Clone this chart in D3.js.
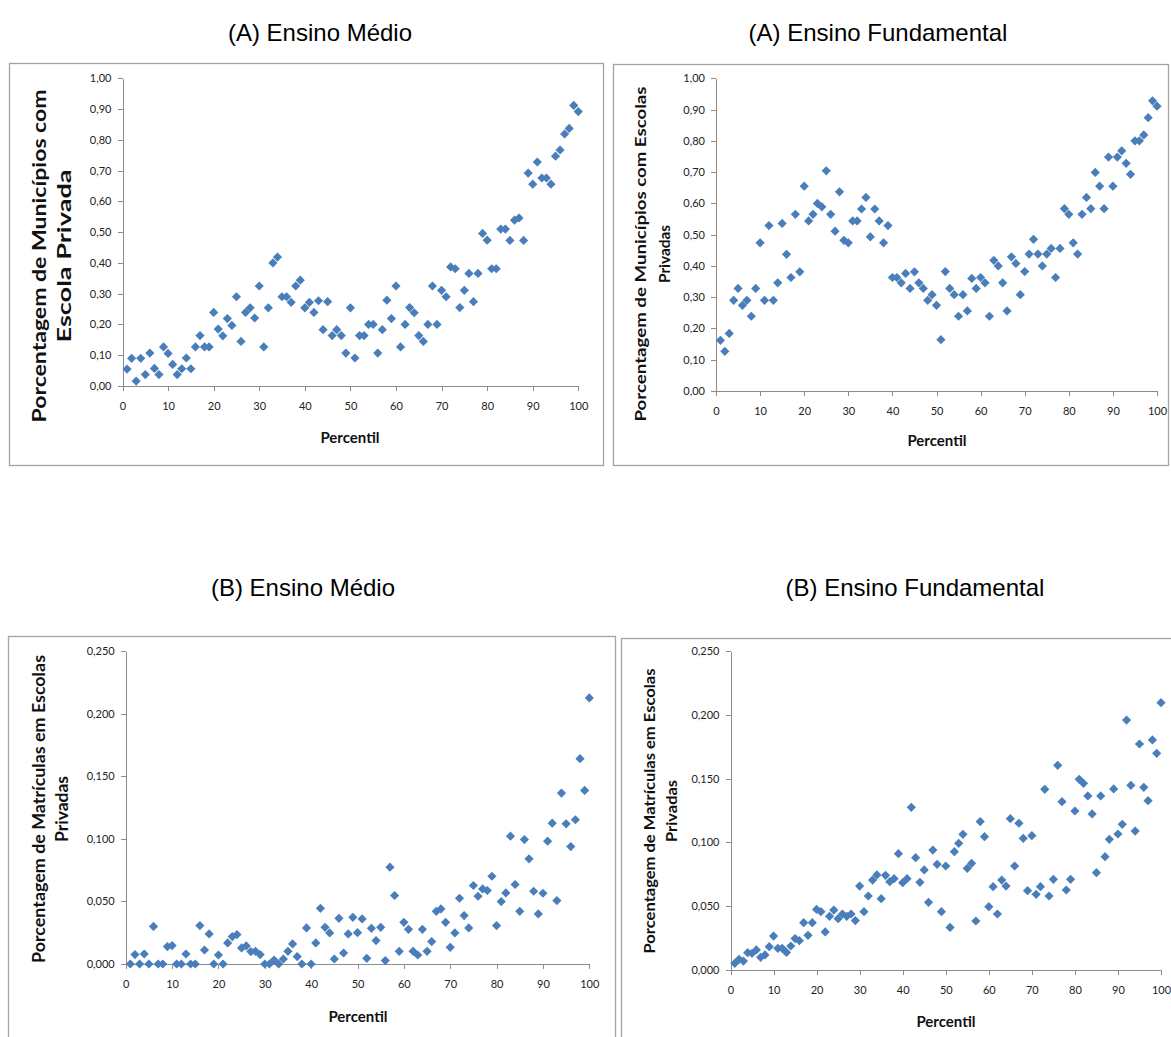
<!DOCTYPE html>
<html lang="pt-BR">
<head>
<meta charset="utf-8">
<script src="https://cdn.jsdelivr.net/npm/d3@7"></script>
<style>
  html, body { margin: 0; padding: 0; background: #fff; }
  svg { display: block; }
  .tick text { font-family: Lato, "Liberation Sans", sans-serif; font-size: 11px; fill: #222; }
  .axis path, .axis line { stroke: #8c8c8c; stroke-width: 1; shape-rendering: crispEdges; }
</style>
</head>
<body>
<svg id="chart" width="1171" height="1037"></svg>
<script>
// Percentis (eixo x) de 1 a 100
const percentis = d3.range(1, 101);

// (A) Porcentagem de municípios com escola privada — Ensino Médio
const municipiosMedio = [
  0.055, 0.090, 0.016, 0.090, 0.037, 0.107, 0.057, 0.037, 0.127, 0.106,
  0.070, 0.037, 0.056, 0.091, 0.056, 0.127, 0.164, 0.127, 0.127, 0.239,
  0.185, 0.163, 0.219, 0.197, 0.290, 0.145, 0.239, 0.254, 0.221, 0.325,
  0.127, 0.254, 0.400, 0.419, 0.290, 0.290, 0.272, 0.325, 0.344, 0.254,
  0.272, 0.239, 0.277, 0.183, 0.274, 0.164, 0.183, 0.164, 0.107, 0.254,
  0.091, 0.164, 0.164, 0.200, 0.200, 0.107, 0.183, 0.279, 0.219, 0.325,
  0.127, 0.200, 0.255, 0.238, 0.164, 0.145, 0.200, 0.325, 0.200, 0.311,
  0.290, 0.387, 0.381, 0.255, 0.311, 0.366, 0.274, 0.366, 0.496, 0.474,
  0.381, 0.381, 0.510, 0.510, 0.473, 0.539, 0.546, 0.473, 0.692, 0.656,
  0.728, 0.676, 0.676, 0.656, 0.747, 0.767, 0.819, 0.837, 0.912, 0.892
];

// (A) Porcentagem de municípios com escolas privadas — Ensino Fundamental
const municipiosFundamental = [
  0.162, 0.127, 0.184, 0.290, 0.328, 0.274, 0.290, 0.239, 0.328, 0.474,
  0.290, 0.529, 0.290, 0.346, 0.536, 0.437, 0.363, 0.565, 0.381, 0.655,
  0.544, 0.565, 0.600, 0.589, 0.704, 0.565, 0.511, 0.637, 0.482, 0.474,
  0.544, 0.544, 0.582, 0.619, 0.493, 0.582, 0.544, 0.474, 0.529, 0.363,
  0.363, 0.346, 0.376, 0.328, 0.381, 0.346, 0.328, 0.290, 0.308, 0.274,
  0.164, 0.382, 0.328, 0.308, 0.239, 0.308, 0.256, 0.360, 0.328, 0.363,
  0.346, 0.239, 0.418, 0.400, 0.346, 0.256, 0.429, 0.408, 0.308, 0.382,
  0.438, 0.485, 0.438, 0.400, 0.438, 0.456, 0.363, 0.456, 0.583, 0.565,
  0.474, 0.438, 0.565, 0.619, 0.583, 0.699, 0.655, 0.583, 0.748, 0.655,
  0.748, 0.768, 0.728, 0.693, 0.800, 0.800, 0.819, 0.874, 0.928, 0.911
];

// (B) Porcentagem de matrículas em escolas privadas — Ensino Médio
const matriculasMedio = [
  0.0000, 0.0075, 0.0000, 0.0080, 0.0000, 0.0300, 0.0000, 0.0000, 0.0139, 0.0147,
  0.0000, 0.0000, 0.0080, 0.0000, 0.0000, 0.0307, 0.0112, 0.0240, 0.0000, 0.0072,
  0.0000, 0.0168, 0.0219, 0.0235, 0.0128, 0.0144, 0.0099, 0.0101, 0.0075, 0.0000,
  0.0000, 0.0032, 0.0000, 0.0040, 0.0101, 0.0160, 0.0059, 0.0000, 0.0288, 0.0000,
  0.0168, 0.0445, 0.0293, 0.0248, 0.0040, 0.0365, 0.0088, 0.0240, 0.0373, 0.0250,
  0.0360, 0.0045, 0.0285, 0.0187, 0.0293, 0.0027, 0.0773, 0.0547, 0.0101, 0.0333,
  0.0277, 0.0101, 0.0072, 0.0277, 0.0101, 0.0179, 0.0421, 0.0440, 0.0333, 0.0133,
  0.0248, 0.0525, 0.0387, 0.0288, 0.0627, 0.0541, 0.0600, 0.0587, 0.0701, 0.0307,
  0.0499, 0.0568, 0.1021, 0.0635, 0.0421, 0.0994, 0.0840, 0.0581, 0.0400, 0.0565,
  0.0981, 0.1125, 0.0507, 0.1365, 0.1120, 0.0938, 0.1152, 0.1640, 0.1386, 0.2125
];

// (B) Porcentagem de matrículas em escolas privadas — Ensino Fundamental
const matriculasFundamental = [
  0.0052, 0.0084, 0.0070, 0.0136, 0.0131, 0.0157, 0.0099, 0.0118, 0.0183, 0.0266,
  0.0170, 0.0170, 0.0138, 0.0188, 0.0246, 0.0230, 0.0371, 0.0272, 0.0371, 0.0475,
  0.0457, 0.0298, 0.0421, 0.0470, 0.0402, 0.0439, 0.0421, 0.0439, 0.0387, 0.0658,
  0.0457, 0.0580, 0.0705, 0.0745, 0.0559, 0.0742, 0.0692, 0.0716, 0.0912, 0.0684,
  0.0716, 0.1275, 0.0880, 0.0687, 0.0784, 0.0530, 0.0940, 0.0828, 0.0457, 0.0815,
  0.0334, 0.0927, 0.0993, 0.1063, 0.0797, 0.0836, 0.0384, 0.1163, 0.1045, 0.0496,
  0.0653, 0.0439, 0.0705, 0.0658, 0.1186, 0.0815, 0.1150, 0.1032, 0.0622, 0.1053,
  0.0593, 0.0653, 0.1416, 0.0580, 0.0711, 0.1604, 0.1319, 0.0627, 0.0711, 0.1246,
  0.1494, 0.1463, 0.1364, 0.1223, 0.0763, 0.1364, 0.0888, 0.1024, 0.1419, 0.1066,
  0.1142, 0.1959, 0.1447, 0.1089, 0.1771, 0.1432, 0.1327, 0.1803, 0.1698, 0.2095
];

// Marcas dos eixos
const xTicks = [0, 10, 20, 30, 40, 50, 60, 70, 80, 90, 100];
const yTicksA = [0, 0.1, 0.2, 0.3, 0.4, 0.5, 0.6, 0.7, 0.8, 0.9, 1.0];
const yTicksB = [0, 0.05, 0.10, 0.15, 0.20, 0.25];

// Títulos
const titulos = ["(A) Ensino Médio", "(A) Ensino Fundamental", "(B) Ensino Médio", "(B) Ensino Fundamental"];
const rotulosY = [
  ["Porcentagem de Municípios  com", "Escola Privada"],
  ["Porcentagem de Municípios com Escolas", "Privadas"],
  ["Porcentagem de Matrículas em Escolas", "Privadas"],
  ["Porcentagem de Matrículas em Escolas", "Privadas"]
];
const rotuloX = "Percentil";

// Formatação com vírgula decimal
const ptBR = d3.formatLocale({ decimal: ",", thousands: ".", grouping: [3], currency: ["R$ ", ""] });

// Disposição de cada painel
const paineis = [
  { valores: municipiosMedio, yTicks: yTicksA, yMax: 1.0, fmt: ptBR.format(".2f"),
    frame: [9, 63, 603, 465], plot: [122.5, 578.3, 386, 78.3],
    titulo: [320, 32], yLab: { x: [38, 63], cy: 256, size: 19.5, len: [333, 173] },
    xLab: [350, 437] },
  { valores: municipiosFundamental, yTicks: yTicksA, yMax: 1.0, fmt: ptBR.format(".2f"),
    frame: [613, 64, 1168, 465], plot: [716, 1157, 391, 78.3],
    titulo: [878, 32], yLab: { x: [639, 663], cy: 254, size: 16, len: [335, 58] },
    xLab: [937, 440] },
  { valores: matriculasMedio, yTicks: yTicksB, yMax: 0.25, fmt: ptBR.format(".3f"),
    frame: [8, 636, 615, 1050], plot: [125.7, 589.3, 964, 651],
    titulo: [303, 587], yLab: { x: [39, 62], cy: 809, size: 16.5, len: [308, 66] },
    xLab: [358, 1016] },
  { valores: matriculasFundamental, yTicks: yTicksB, yMax: 0.25, fmt: ptBR.format(".3f"),
    frame: [621, 638, 1175, 1050], plot: [730.5, 1161, 970, 651],
    titulo: [915, 587], yLab: { x: [648, 670], cy: 811, size: 16, len: [285, 62] },
    xLab: [946, 1021] }
];

const svg = d3.select("#chart");
const diamante = d3.symbol().type(d3.symbolDiamond2).size(54);

paineis.forEach((p, i) => {
  const g = svg.append("g");

  // Moldura do gráfico
  g.append("rect")
    .attr("x", p.frame[0] + 0.5).attr("y", p.frame[1] + 0.5)
    .attr("width", p.frame[2] - p.frame[0]).attr("height", p.frame[3] - p.frame[1])
    .attr("fill", "none").attr("stroke", "#a3a3a3").attr("stroke-width", 1.3);

  // Título
  g.append("text")
    .attr("x", p.titulo[0]).attr("y", p.titulo[1])
    .attr("text-anchor", "middle").attr("dominant-baseline", "central")
    .style("font-family", "'Liberation Sans', Arial, sans-serif")
    .style("font-size", "24px").style("fill", "#000")
    .text(titulos[i]);

  const x = d3.scaleLinear().domain([0, 100]).range([p.plot[0], p.plot[1]]);
  const y = d3.scaleLinear().domain([0, p.yMax]).range([p.plot[2], p.plot[3]]);

  g.append("g").attr("class", "axis")
    .attr("transform", `translate(${p.plot[0]},0)`)
    .call(d3.axisLeft(y).tickValues(p.yTicks).tickFormat(p.fmt).tickSize(5).tickSizeOuter(0).tickPadding(6));

  g.append("g").attr("class", "axis")
    .attr("transform", `translate(0,${p.plot[2]})`)
    .call(d3.axisBottom(x).tickValues(xTicks).tickFormat(d3.format("d")).tickSize(5).tickSizeOuter(0).tickPadding(11));

  // Pontos
  g.append("g").selectAll("path")
    .data(percentis.map((pc, k) => ({ pc, v: p.valores[k] })))
    .join("path")
    .attr("transform", d => `translate(${x(d.pc)},${y(d.v)})`)
    .attr("d", diamante)
    .attr("fill", "#4a7ebb");

  // Rótulo do eixo x
  g.append("text")
    .attr("x", p.xLab[0]).attr("y", p.xLab[1])
    .attr("text-anchor", "middle").attr("dominant-baseline", "central")
    .style("font-family", "Lato, 'Liberation Sans', sans-serif")
    .style("font-weight", "bold").style("font-size", "15px").style("fill", "#111")
    .text(rotuloX);

  // Rótulo do eixo y (duas linhas, girado)
  rotulosY[i].forEach((linha, j) => {
    g.append("text")
      .attr("transform", `translate(${p.yLab.x[j]},${p.yLab.cy}) rotate(-90)`)
      .attr("text-anchor", "middle").attr("dominant-baseline", "central")
      .attr("textLength", p.yLab.len[j]).attr("lengthAdjust", "spacingAndGlyphs")
      .style("font-family", "Lato, 'Liberation Sans', sans-serif")
      .style("font-weight", "bold").style("font-size", p.yLab.size + "px").style("fill", "#111")
      .text(linha);
  });
});
</script>
</body>
</html>
